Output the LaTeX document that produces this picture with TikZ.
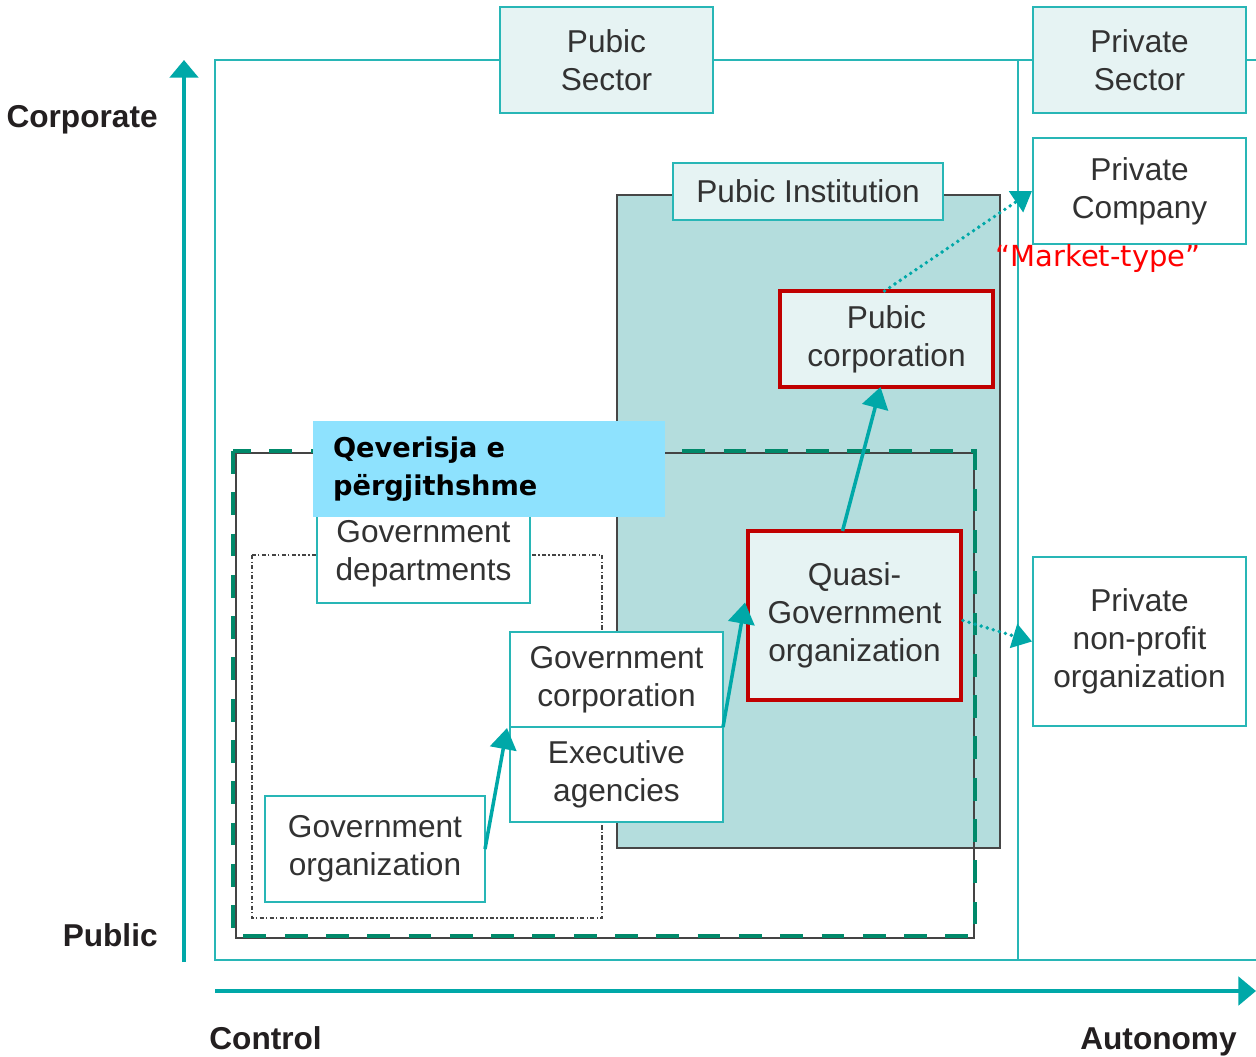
\documentclass[tikz,border=0pt]{standalone}
\usepackage{fontspec}
\setmainfont{Liberation Sans}
\newfontfamily\dejavu{DejaVu Sans}
\usetikzlibrary{calc,arrows.meta}
\definecolor{teal1}{RGB}{0,168,168}
\definecolor{tealline}{RGB}{40,182,182}
\definecolor{lightfill}{RGB}{230,243,243}
\definecolor{instfill}{RGB}{180,221,221}
\definecolor{instline}{RGB}{70,70,70}
\definecolor{dkgreen}{RGB}{0,137,106}
\definecolor{redb}{RGB}{192,0,0}
\definecolor{qblue}{RGB}{142,226,254}
\definecolor{txt}{RGB}{50,50,50}
\definecolor{axtxt}{RGB}{35,31,32}
\definecolor{dkgray}{RGB}{68,68,68}
\tikzset{
  wh/.style 2 args={minimum width=#1*0.02cm, minimum height=#2*0.02cm},
  box/.style={draw=tealline, line width=0.9pt, fill=white, inner sep=0pt, outer sep=0pt, align=center, text=txt, font=\fontsize{18}{21.6}\selectfont},
  lbox/.style={box, fill=lightfill},
  redbox/.style={box, fill=lightfill, draw=redb, line width=2.8pt},
  conn/.style={teal1, line width=2pt, -{Triangle[length=12pt,width=15pt]}},
  dotconn/.style={teal1, line width=2.2pt, dash pattern=on 0pt off 3.6pt, line cap=round, -{Triangle[length=11pt,width=14pt]}},
  axis/.style={teal1, line width=2.4pt, -{Triangle[length=10pt,width=16pt]}},
  axlab/.style={inner sep=0pt, text=axtxt, font=\bfseries\fontsize{18}{21.6}\selectfont},
  framel/.style={tealline, line width=0.9pt}
}
\begin{document}
\begin{tikzpicture}[x=0.02cm,y=-0.02cm]
\useasboundingbox (0,0) rectangle (1256,1056);
% frame
\draw[framel] (215,60) rectangle (1018,960);
\draw[framel] (1018,60) -- (1256,60) (1018,960) -- (1256,960);
% axes
\coordinate (yb) at (184,962);
\coordinate (yt) at (184,60);
\draw[axis] (yb) -- (yt);
\coordinate (xl) at (215,991);
\coordinate (xr) at (1256,991);
\draw[axis] (xl) -- (xr);
% axis labels
\node[axlab, anchor=base east] (lcorp) at (158,127) {Corporate};
\node[axlab, anchor=base east] (lpub) at (158,946) {Public};
\node[axlab, anchor=base west] (lctl) at (209,1049) {Control};
\node[axlab, anchor=base east] (laut) at (1237,1049) {Autonomy};
% sectors
\node[lbox, wh={213}{106}] (psec) at (606.5,60) {Pubic\\Sector};
\node[lbox, wh={213}{106}] (prsec) at (1139.5,60) {Private\\Sector};
\node[box, wh={213}{106}] (pcomp) at (1139.5,191) {Private\\Company};
\node[box, wh={213}{169}] (npo) at (1139.5,641.5) {Private\\non-profit\\organization};
% institution
\node[draw=instline, line width=0.9pt, fill=instfill, inner sep=0pt, outer sep=0pt, wh={383}{653}] (inst) at (808.5,521.5) {};
\node[lbox, wh={270}{57}] (instlab) at (808,191.5) {Pubic Institution};
\node[redbox, wh={213}{96}] (pubcorp) at (886.5,339) {Pubic\\corporation};
% dotted region
\draw[dkgray, line width=0.6pt, dash pattern=on 2.5pt off 1.2pt on 0.8pt off 1.2pt] (252,555) rectangle (602,918);
% general government region
\draw[dkgray, line width=0.8pt] (236,453) rectangle (974,938);
\draw[dkgreen, line width=2.8pt, dash pattern=on 13pt off 10.5pt] (233,451) rectangle (975,936);
% government boxes
\node[box, wh={213}{98}] (gdep) at (423.5,554) {Government\\departments};
\node[box, wh={213}{95}] (gcorp) at (616.5,679.5) {Government\\corporation};
\node[box, wh={213}{95}] (exec) at (616.5,774.5) {Executive\\agencies};
\node[box, wh={220}{106}] (gorg) at (375,849) {Government\\organization};
\node[redbox, wh={213}{169}] (quasi) at (854.5,615.5) {Quasi-\\Government\\organization};
% label
\node[fill=qblue, inner sep=0pt, wh={352}{96}, text width=6.24cm, align=left, font=\dejavu\bfseries\fontsize{15.5}{21.5}\selectfont] (qlab) at (489,469) {Qeverisja e\\përgjithshme};
% connectors
\draw[conn] (gorg.east) -- ($(gcorp.south west)+(-3,1)$);
\draw[conn] (exec.north east) -- ($(quasi.west)+(-3,-13)$);
\draw[conn] ($(quasi.north)+(-12,0)$) -- ($(pubcorp.south)+(-6,0)$);
\draw[dotconn] ($(pubcorp.north)+(-2,0)$) -- ($(pcomp.west)+(-1,0)$);
\draw[dotconn] ($(quasi.east)+(2,5)$) -- ($(npo.west)+(-1,0)$);
% market type
\node[text=red, inner sep=0pt, font=\dejavu\fontsize{16.5}{20}\selectfont] (mkt) at (1098,258) {“Market-type”};
\end{tikzpicture}
\end{document}
